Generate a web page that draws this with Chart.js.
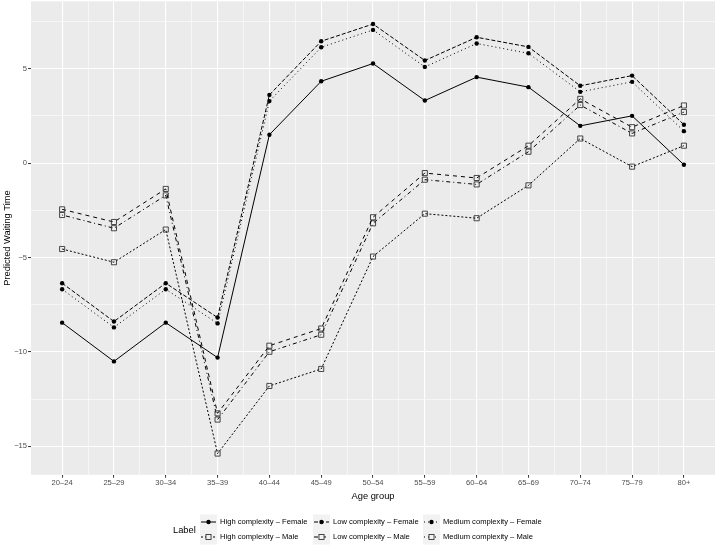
<!DOCTYPE html>
<html>
<head>
<meta charset="utf-8">
<script src="https://cdn.jsdelivr.net/npm/chart.js@4.4.1/dist/chart.umd.min.js"></script>
<style>
  html, body { margin: 0; padding: 0; background: #fff; }
  #wrap { width: 716px; height: 546px; position: relative; }
</style>
</head>
<body>
<div id="wrap"><canvas id="chart"></canvas></div>
<script>
// age groups on the x axis
const ageGroups = ['20–24','25–29','30–34','35–39','40–44','45–49','50–54','55–59','60–64','65–69','70–74','75–79','80+'];

// predicted waiting time per label
const highFemale   = [-8.45, -10.5, -8.45, -10.3, 1.5, 4.33, 5.27, 3.31, 4.55, 4.02, 1.97, 2.5, -0.09];
const highMale     = [-4.55, -5.25, -3.52, -15.38, -11.8, -10.9, -4.95, -2.68, -2.92, -1.18, 1.3, -0.19, 0.92];
const lowFemale    = [-6.36, -8.39, -6.36, -8.18, 3.61, 6.45, 7.36, 5.43, 6.66, 6.15, 4.09, 4.63, 2.03];
const lowMale      = [-2.45, -3.12, -1.37, -13.25, -9.67, -8.76, -2.87, -0.53, -0.79, 0.92, 3.4, 1.9, 3.05];
const mediumFemale = [-6.68, -8.7, -6.68, -8.49, 3.28, 6.13, 7.05, 5.09, 6.33, 5.81, 3.77, 4.3, 1.69];
const mediumMale   = [-2.75, -3.45, -1.71, -13.58, -9.99, -9.09, -3.19, -0.88, -1.13, 0.6, 3.07, 1.57, 2.7];

const yTicks = [-15, -12.5, -10, -7.5, -5, -2.5, 0, 2.5, 5, 7.5];

const FONT = '"Liberation Sans", Arial, sans-serif';

function series(label, values, dash, female) {
    return {
        label: label,
        data: values.map((v, i) => ({x: i, y: v})),
        borderColor: '#000',
        borderWidth: 1,
        borderDash: dash,
        pointStyle: female ? 'circle' : 'rect',
        pointRadius: female ? 2.2 : 3.6,
        pointBackgroundColor: female ? '#000' : 'rgba(0,0,0,0)',
        pointBorderColor: female ? '#000' : '#333',
        pointBorderWidth: female ? 0 : 0.9,
        tension: 0,
        fill: false
    };
}

const datasets = [
    series('High complexity – Female', highFemale, [], true),
    series('High complexity – Male', highMale, [2, 2], false),
    series('Low complexity – Female', lowFemale, [4, 2], true),
    series('Low complexity – Male', lowMale, [4, 4], false),
    series('Medium complexity – Female', mediumFemale, [1, 3], true),
    series('Medium complexity – Male', mediumMale, [1, 3, 4, 3], false)
];

// grey panel like ggplot
const panelBg = {
    id: 'panelBg',
    beforeDraw(chart) {
        const {ctx, chartArea: a} = chart;
        ctx.save();
        ctx.fillStyle = '#fff';
        ctx.fillRect(0, 0, chart.width, chart.height);
        ctx.fillStyle = '#EBEBEB';
        ctx.fillRect(a.left, a.top, a.right - a.left, a.bottom - a.top);
        ctx.restore();
    }
};

// legend at the bottom: title on the left, 3 columns x 2 rows
const ggLegend = {
    id: 'ggLegend',
    afterDraw(chart) {
        const ctx = chart.ctx;
        const cols = [200, 313, 423];
        const rows = [522, 537];
        const key = 15;
        ctx.save();
        ctx.fillStyle = '#000';
        ctx.font = '9.3px ' + FONT;
        ctx.textBaseline = 'middle';
        ctx.textAlign = 'left';
        ctx.fillText('Label', 173, 530);
        ctx.font = '7.6px ' + FONT;
        chart.data.datasets.forEach((ds, i) => {
            const cx = cols[Math.floor(i / 2)];
            const cy = rows[i % 2];
            ctx.fillStyle = '#F2F2F2';
            ctx.fillRect(cx, cy - key / 2, key + 2, key);
            ctx.strokeStyle = '#000';
            ctx.lineWidth = 1;
            ctx.setLineDash(ds.borderDash);
            ctx.beginPath();
            ctx.moveTo(cx + 1, cy);
            ctx.lineTo(cx + key + 1, cy);
            ctx.stroke();
            ctx.setLineDash([]);
            const px = cx + key / 2 + 1;
            if (ds.pointStyle === 'circle') {
                ctx.fillStyle = '#000';
                ctx.beginPath();
                ctx.arc(px, cy, ds.pointRadius, 0, Math.PI * 2);
                ctx.fill();
            } else {
                const s = ds.pointRadius * Math.SQRT1_2;
                ctx.fillStyle = '#F2F2F2';
                ctx.fillRect(px - s, cy - s, 2 * s, 2 * s);
                ctx.strokeStyle = '#333';
                ctx.lineWidth = 0.9;
                ctx.strokeRect(px - s, cy - s, 2 * s, 2 * s);
            }
            ctx.fillStyle = '#000';
            ctx.fillText(ds.label, cx + key + 5, cy);
        });
        ctx.restore();
    }
};

const isMajorX = v => Math.abs(v - Math.round(v)) < 1e-6;
const isMajorY = v => Math.abs(v / 5 - Math.round(v / 5)) < 1e-6;

new Chart(document.getElementById('chart'), {
    type: 'line',
    data: {datasets: datasets},
    options: {
        responsive: true,
        maintainAspectRatio: false,
        animation: false,
        events: [],
        layout: {autoPadding: false, padding: {top: 0, right: 1, bottom: 44, left: 0}},
        plugins: {legend: {display: false}, tooltip: {enabled: false}},
        scales: {
            x: {
                type: 'linear',
                min: -0.6,
                max: ageGroups.length - 1 + 0.6,
                afterBuildTicks(scale) {
                    const t = [];
                    for (let i = 0; i <= (ageGroups.length - 1) * 2; i++) t.push({value: i / 2});
                    scale.ticks = t;
                },
                border: {display: false},
                grid: {
                    color: '#fff',
                    lineWidth: c => isMajorX(c.tick.value) ? 1.1 : 0.55,
                    tickColor: c => isMajorX(c.tick.value) ? '#333' : 'rgba(0,0,0,0)',
                    tickWidth: 1,
                    tickLength: 3
                },
                ticks: {
                    autoSkip: false,
                    maxRotation: 0,
                    padding: 1,
                    color: '#4D4D4D',
                    font: {family: FONT, size: 7.6},
                    callback: v => isMajorX(v) ? ageGroups[Math.round(v)] : ''
                },
                title: {
                    display: true,
                    text: 'Age group',
                    color: '#000',
                    font: {family: FONT, size: 9.3},
                    padding: {top: 2, bottom: 0}
                }
            },
            y: {
                type: 'linear',
                min: -16.5,
                max: 8.56,
                afterBuildTicks(scale) {
                    scale.ticks = yTicks.map(v => ({value: v}));
                },
                border: {display: false},
                grid: {
                    color: '#fff',
                    lineWidth: c => isMajorY(c.tick.value) ? 1.1 : 0.55,
                    tickColor: c => isMajorY(c.tick.value) ? '#333' : 'rgba(0,0,0,0)',
                    tickWidth: 1,
                    tickLength: 3
                },
                ticks: {
                    padding: 1,
                    color: '#4D4D4D',
                    // tiny line height so the labels do not push the panel down
                    font: {family: FONT, size: 7.6, lineHeight: 0.1},
                    callback: v => isMajorY(v) ? String(v).replace('-', '−') : ''
                },
                title: {
                    display: true,
                    text: 'Predicted Waiting Time',
                    color: '#000',
                    font: {family: FONT, size: 9.3},
                    padding: {top: 1.5, bottom: 0.5}
                }
            }
        }
    },
    plugins: [panelBg, ggLegend]
});
</script>
</body>
</html>
